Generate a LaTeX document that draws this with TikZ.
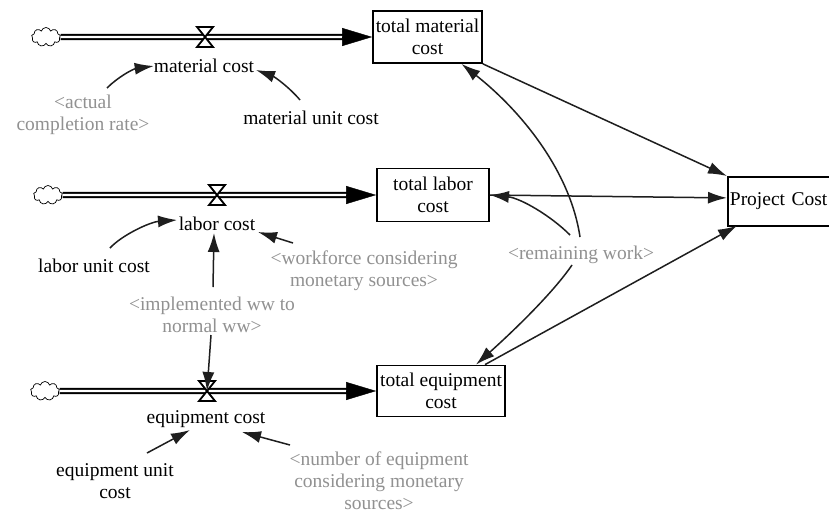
\documentclass[tikz,border=0pt]{standalone}
\usepackage{fontspec}
\setmainfont{Liberation Serif}
\usetikzlibrary{arrows.meta,shapes.symbols}
\definecolor{lbl}{RGB}{145,145,145}
\definecolor{ink}{RGB}{30,30,30}
\tikzset{valvepic/.pic={\draw[valvestyle] (-8,-10) -- (8,-10) -- (-8,10) -- (8,10) -- cycle;}}
\begin{document}
\begin{tikzpicture}[x=1pt,y=-1pt,
  every node/.style={font=\fontsize{19.5}{22}\selectfont, inner sep=0pt},
  var/.style={align=center, text=black},
  ghost/.style={align=center, text=lbl},
  stock/.style={draw=black, line width=1.8pt, align=center, inner sep=0pt},
  cloudsrc/.style={cloud, draw=black, line width=0.7pt, cloud puffs=9, aspect=1.5, minimum width=29pt, minimum height=19pt, inner sep=0pt},
  pipe/.style={double=white, draw=black, line width=2pt, double distance=2.4pt},
  pipetip/.style={-{Triangle[length=30pt,width=18pt]}, line width=0.4pt, draw=black},
  valvestyle/.style={draw=black, fill=white, line width=1.8pt, line join=miter},
  conn/.style={draw=ink, line width=1.5pt, -{Latex[length=19pt,width=12pt]}},
]
\useasboundingbox (0,0) rectangle (829,514);
\clip (0,0) rectangle (829,514);
\fill[white] (0,0) rectangle (829,514);

% stocks
\node[stock, minimum width=109pt, minimum height=52pt] (tmc) at (427.5,37) {total material\\cost};
\node[stock, minimum width=112pt, minimum height=53pt] (tlc) at (433,195) {total labor\\cost};
\node[stock, minimum width=128pt, minimum height=51pt] (tec) at (441,391) {total equipment\\cost};
\node[stock, anchor=north west, minimum height=49pt, text width=130pt, align=left, inner xsep=2pt] (pc) at (727,176) {Project Cost};

% sources
\node[cloudsrc] (c1) at (46,37) {};
\node[cloudsrc] (c2) at (48,195) {};
\node[cloudsrc] (c3) at (45,391) {};

% pipes
\draw[pipe] (c1.east) -- ([shift={(-15,0)}]tmc.west);
\draw[pipetip] ([shift={(-30,0)}]tmc.west) -- (tmc.west);
\draw[pipe] (c2.east) -- ([shift={(-15,0)}]tlc.west);
\draw[pipetip] ([shift={(-30,0)}]tlc.west) -- (tlc.west);
\draw[pipe] (c3.east) -- ([shift={(-15,0)}]tec.west);
\draw[pipetip] ([shift={(-30,0)}]tec.west) -- (tec.west);

% valves
\coordinate (v1) at (205,37);
\coordinate (v2) at (217,195);
\coordinate (v3) at (207,391);
\pic at (v1) {valvepic};
\pic at (v2) {valvepic};
\pic at (v3) {valvepic};

% variables
\node[var] (mc) at (204,66) {material cost};
\node[var] (muc) at (311,118) {material unit cost};
\node[ghost] (acr) at (83,115) {<actual\\completion rate>};
\node[var] (lc) at (217,224) {labor cost};
\node[var] (luc) at (94,266) {labor unit cost};
\node[ghost] (wf) at (364,271) {<workforce considering\\monetary sources>};
\node[ghost] (iww) at (212,315) {<implemented ww to\\normal ww>};
\node[var] (ec) at (206,419) {equipment cost};
\node[var] (euc) at (115,481) {equipment unit\\cost};
\node[ghost] (ne) at (379,481) {<number of equipment\\considering monetary\\sources>};
\node[ghost] (rw) at (581,255) {<remaining work>};

% connectors
\draw[conn] ([shift={(24,-27)}]acr.center) .. controls (118,77) and (133,69) .. (mc.west);
\draw[conn] ([shift={(-11,-18)}]muc.center) .. controls (290,88) and (275,77) .. ([shift={(52,4)}]mc.center);
\draw[conn] ([shift={(16,-18)}]luc.center) .. controls (122,235) and (150,222) .. ([shift={(-40,-4)}]lc.center);
\draw[conn] ([shift={(-71,-28)}]wf.center) -- ([shift={(41,8)}]lc.center);
\draw[conn] ([shift={(1,-28)}]iww.center) -- ([shift={(-3,9)}]lc.center);
\draw[conn] ([shift={(-1,20)}]iww.center) -- (v3);
\draw[conn] ([shift={(32,-28)}]euc.center) -- ([shift={(-16,11)}]ec.center);
\draw[conn] ([shift={(-89,-36)}]ne.center) -- ([shift={(36,13)}]ec.center);
\draw[conn] (tmc.south east) -- (pc.north west);
\draw[conn] (tlc.east) -- ([shift={(0,-3.5)}]pc.west);
\draw[conn] ([shift={(44,0)}]tec.north) -- ([shift={(10,-1)}]pc.south west);
\draw[conn] ([shift={(-1,-18)}]rw.center) .. controls (570,170) and (520,110) .. ([shift={(34,0)}]tmc.south);
\draw[conn] ([shift={(-11,-20)}]rw.center) .. controls (550,215) and (520,198) .. (tlc.east);
\draw[conn] ([shift={(-9,10)}]rw.center) .. controls (555,290) and (520,325) .. ([shift={(35,0)}]tec.north);
\end{tikzpicture}
\end{document}
